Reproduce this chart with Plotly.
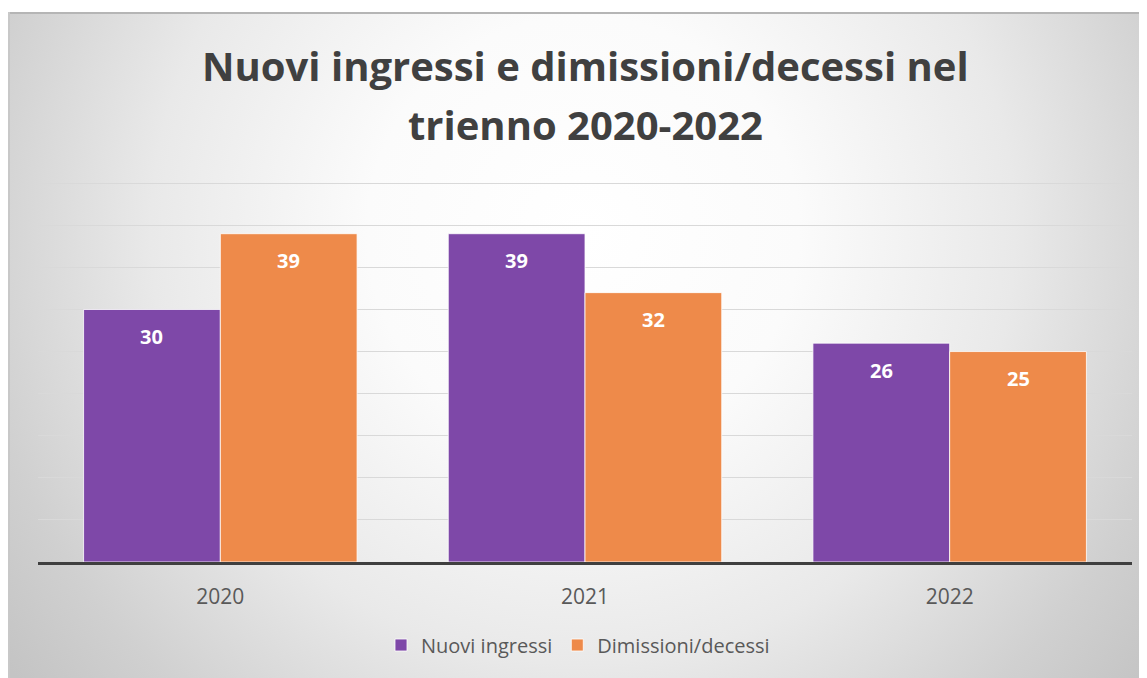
import base64
import plotly.graph_objects as go

years = ["2020", "2021", "2022"]
nuovi_ingressi = [30, 39, 26]
dimissioni_decessi = [39, 32, 25]
series_names = ["Nuovi ingressi", "Dimissioni/decessi"]
title_lines = ["Nuovi ingressi e dimissioni/decessi nel", "trienno 2020-2022"]

PURPLE = "#7E48A8"
ORANGE = "#EE8A4A"
FONT = "Open Sans"

OFF = 8  # default page body margin
W, H = 1147 - OFF, 678 - OFF
# page-pixel positions of the plot area
PL, PR, PT, PB = 38, 1132, 179, 562
L, T = PL - OFF, PT - OFF
R, B = W - (PR - OFF), H - (PB - OFF)
pw, ph = PR - PL, PB - PT


def px_x(px):
    return (px - PL) / pw


def px_y(py):
    return (PB - py) / ph


fig = go.Figure()
fig.add_trace(go.Bar(x=years, y=nuovi_ingressi, name=series_names[0],
                     marker=dict(color=PURPLE, line=dict(color="white", width=0.8))))
fig.add_trace(go.Bar(x=years, y=dimissioni_decessi, name=series_names[1],
                     marker=dict(color=ORANGE, line=dict(color="white", width=0.8))))

# background radial gradient (style only)
svg = """<svg xmlns='http://www.w3.org/2000/svg' width='1141' height='668' viewBox='0 0 1141 668' preserveAspectRatio='none'>
<defs><radialGradient id='g' gradientUnits='userSpaceOnUse' cx='575' cy='220' r='720'>
<stop offset='0' stop-color='#ffffff'/><stop offset='0.3' stop-color='#fbfbfb'/>
<stop offset='0.6' stop-color='#e9e9e9'/><stop offset='0.85' stop-color='#d0d0d0'/>
<stop offset='1' stop-color='#c4c4c4'/></radialGradient></defs>
<rect x='0' y='0' width='1141' height='668' fill='url(#g)'/>
<line x1='0' y1='1' x2='1141' y2='1' stroke='#b5b5b5' stroke-width='2'/>
<line x1='1' y1='0' x2='1' y2='668' stroke='#c8c8c8' stroke-width='2'/>
</svg>"""
src = "data:image/svg+xml;base64," + base64.b64encode(svg.encode()).decode()

fig.add_layout_image(dict(source=src, xref="paper", yref="paper",
                          x=px_x(8), y=px_y(12), sizex=(1149 - 8) / pw, sizey=(680 - 12) / ph,
                          xanchor="left", yanchor="top", sizing="stretch", layer="below"))

annotations = []
for i, line in enumerate(title_lines):
    annotations.append(dict(text=f"<b>{line}</b>", xref="paper", yref="paper",
                            x=px_x(585), y=px_y(66 + 58 * i), xanchor="center", yanchor="middle",
                            showarrow=False, font=dict(family=FONT, size=40, color="#404040")))

bar_w = pw / 3 * 0.75 / 2
for vals, shift in [(nuovi_ingressi, -bar_w / 2), (dimissioni_decessi, bar_w / 2)]:
    for idx, v in enumerate(vals):
        annotations.append(dict(text=f"<b>{v}</b>", x=idx, y=v, xref="x", yref="y",
                                xshift=shift, yshift=-27, showarrow=False,
                                font=dict(family=FONT, size=20, color="white")))

fig.update_layout(
    width=W, height=H,
    margin=dict(l=L, r=R, t=T, b=B, pad=0),
    paper_bgcolor="white", plot_bgcolor="rgba(0,0,0,0)",
    barmode="group", bargap=0.25, bargroupgap=0,
    font=dict(family=FONT, color="#595959"),
    annotations=annotations,
    showlegend=True,
    legend=dict(orientation="h", x=px_x(578), xanchor="center", y=px_y(645), yanchor="middle",
                font=dict(family=FONT, size=20, color="#595959"), bgcolor="rgba(0,0,0,0)",
                itemwidth=30, traceorder="normal"),
    xaxis=dict(type="category", range=[-0.5, len(years) - 0.5], showgrid=False,
               showline=True, linecolor="#3f3f3f", linewidth=2.5,
               ticks="outside", ticklen=14, tickcolor="rgba(0,0,0,0)",
               tickfont=dict(family=FONT, size=21, color="#595959"), zeroline=False),
    yaxis=dict(range=[0, 45.5], dtick=5, showgrid=True, gridcolor="#d9d9d9", gridwidth=1,
               showticklabels=False, zeroline=False, showline=False),
)

fig.write_html("out.html")
